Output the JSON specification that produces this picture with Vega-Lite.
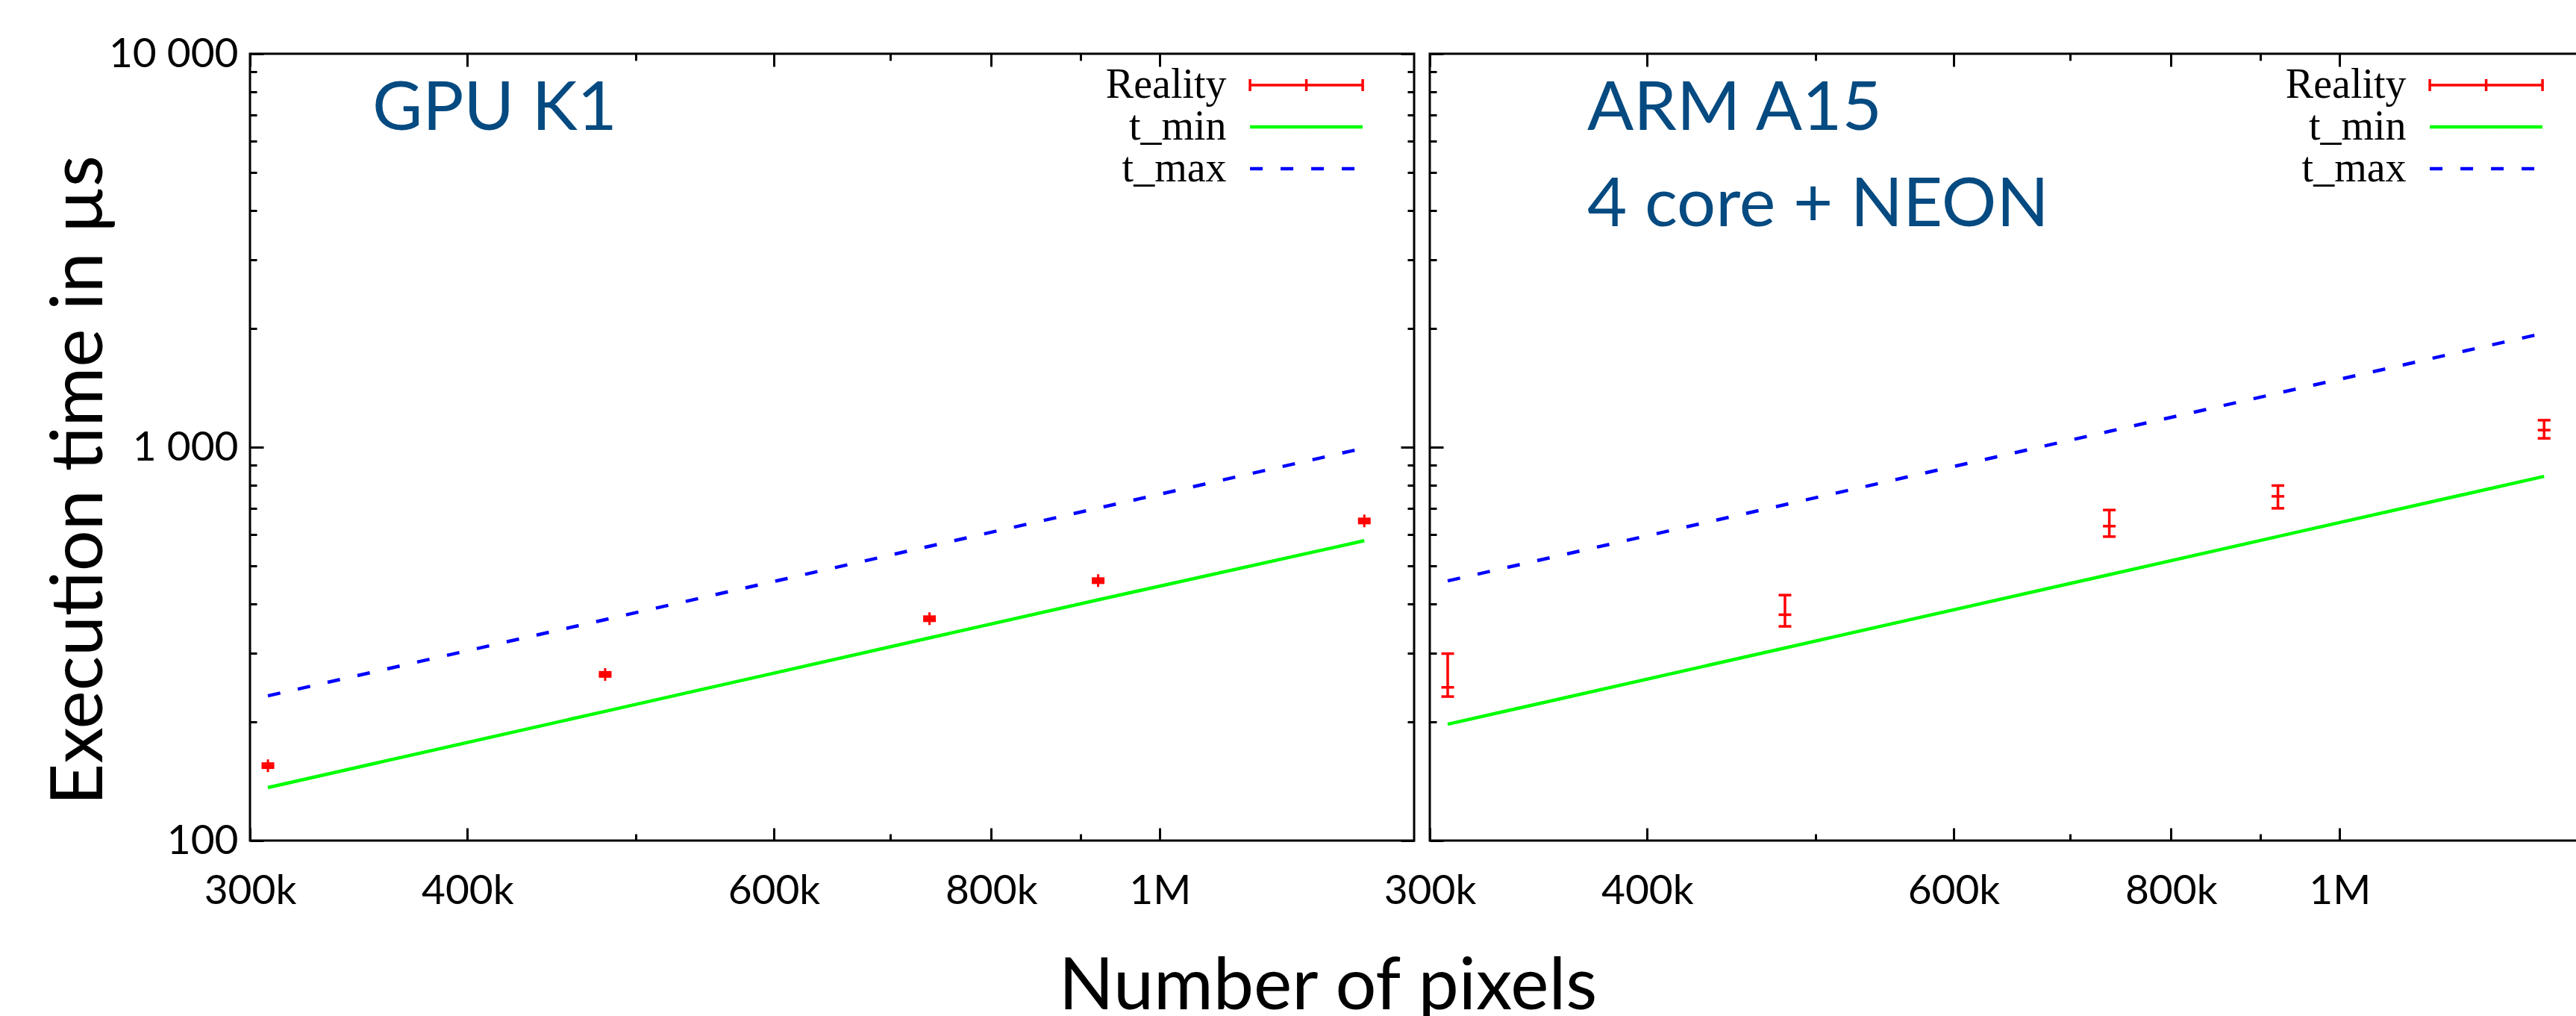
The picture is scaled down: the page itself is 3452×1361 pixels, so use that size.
{
  "$schema": "https://vega.github.io/schema/vega-lite/v6.json",
  "padding": {"left": 56, "top": 43, "right": 0, "bottom": 0},
  "background": "white",
  "bounds": "flush",
  "spacing": 21,
  "config": {
    "view": {"stroke": "black", "strokeWidth": 3},
    "axis": {"grid": false, "domain": false, "tickColor": "black", "tickWidth": 3, "labelColor": "black", "labelFont": "Lato", "labelFontSize": 55, "labelFlush": false, "labelOverlap": false, "labelBound": false, "titleFont": "Lato", "titleFontSize": 97, "titleFontWeight": "normal", "titleColor": "black"}
  },
  "data": {"values": [
    {"panel": "GPU", "series": "Reality", "px": 307200, "t": 155.0, "lo": 153.2, "hi": 156.9},
    {"panel": "GPU", "series": "Reality", "px": 480000, "t": 264.5, "lo": 261.3, "hi": 267.7},
    {"panel": "GPU", "series": "Reality", "px": 737280, "t": 366.4, "lo": 362.0, "hi": 370.8},
    {"panel": "GPU", "series": "Reality", "px": 921600, "t": 457.8, "lo": 452.3, "hi": 463.3},
    {"panel": "GPU", "series": "Reality", "px": 1310720, "t": 649.3, "lo": 641.5, "hi": 657.1},
    {"panel": "GPU", "series": "t_min", "px": 307200, "t": 136.4},
    {"panel": "GPU", "series": "t_min", "px": 480000, "t": 213.1},
    {"panel": "GPU", "series": "t_min", "px": 737280, "t": 327.4},
    {"panel": "GPU", "series": "t_min", "px": 921600, "t": 409.2},
    {"panel": "GPU", "series": "t_min", "px": 1310720, "t": 578.5},
    {"panel": "GPU", "series": "t_max", "px": 307200, "t": 233.3},
    {"panel": "GPU", "series": "t_max", "px": 480000, "t": 364.5},
    {"panel": "GPU", "series": "t_max", "px": 737280, "t": 560.0},
    {"panel": "GPU", "series": "t_max", "px": 921600, "t": 700.0},
    {"panel": "GPU", "series": "t_max", "px": 1310720, "t": 995.0},
    {"panel": "ARM", "series": "Reality", "px": 307200, "t": 245.2, "lo": 232.3, "hi": 298.7},
    {"panel": "ARM", "series": "Reality", "px": 480000, "t": 375.1, "lo": 350.3, "hi": 420.7},
    {"panel": "ARM", "series": "Reality", "px": 737280, "t": 629.8, "lo": 592.4, "hi": 692.2},
    {"panel": "ARM", "series": "Reality", "px": 921600, "t": 749.9, "lo": 699.2, "hi": 798.7},
    {"panel": "ARM", "series": "Reality", "px": 1310720, "t": 1105, "lo": 1053, "hi": 1171},
    {"panel": "ARM", "series": "t_min", "px": 307200, "t": 197.6},
    {"panel": "ARM", "series": "t_min", "px": 480000, "t": 308.8},
    {"panel": "ARM", "series": "t_min", "px": 737280, "t": 474.2},
    {"panel": "ARM", "series": "t_min", "px": 921600, "t": 592.8},
    {"panel": "ARM", "series": "t_min", "px": 1310720, "t": 843.0},
    {"panel": "ARM", "series": "t_max", "px": 307200, "t": 457.2},
    {"panel": "ARM", "series": "t_max", "px": 480000, "t": 714.4},
    {"panel": "ARM", "series": "t_max", "px": 737280, "t": 1097},
    {"panel": "ARM", "series": "t_max", "px": 921600, "t": 1371.6},
    {"panel": "ARM", "series": "t_max", "px": 1310720, "t": 1950}
  ]},
  "hconcat": [
    {
      "width": 1560, "height": 1054,
      "title": {"text": "GPU K1", "anchor": "start", "frame": "group", "orient": "top", "offset": -117, "dx": 164, "dy": 104, "baseline": "alphabetic", "font": "Lato", "fontSize": 92, "fontWeight": "normal", "color": "#054a80"},
      "transform": [{"filter": "datum.panel === 'GPU'"}],
      "layer": [
        {
          "transform": [{"filter": "datum.series === 't_min'"}],
          "mark": {"type": "line", "strokeWidth": 4.5},
          "encoding": {
            "x": {"field": "px", "type": "quantitative", "scale": {"type": "log", "domain": [300000, 1400000], "nice": false},
              "axis": {"orient": "bottom", "values": [300000, 400000, 500000, 600000, 700000, 800000, 900000, 1000000],
                "labelExpr": "datum.value == 300000 ? '300k' : datum.value == 400000 ? '400k' : datum.value == 600000 ? '600k' : datum.value == 800000 ? '800k' : datum.value == 1000000 ? '1M' : ''",
                "tickSize": {"condition": {"test": "datum.value == 300000 || datum.value == 400000 || datum.value == 600000 || datum.value == 800000 || datum.value == 1000000", "value": -17}, "value": -9},
                "labelPadding": 58,
                "title": "Number of pixels", "titleX": 1444, "titleY": 225, "titleAlign": "center", "titleBaseline": "alphabetic"}},
            "y": {"field": "t", "type": "quantitative", "scale": {"type": "log", "domain": [100, 10000], "nice": false},
              "axis": {"orient": "left", "values": [100, 200, 300, 400, 500, 600, 700, 800, 900, 1000, 2000, 3000, 4000, 5000, 6000, 7000, 8000, 9000, 10000],
                "labelExpr": "datum.value == 100 ? '100' : datum.value == 1000 ? '1 000' : datum.value == 10000 ? '10 000' : ''",
                "tickSize": {"condition": {"test": "datum.value == 100 || datum.value == 1000 || datum.value == 10000", "value": -18}, "value": -9},
                "labelPadding": 34,
                "title": "Execution time in µs", "titleX": -199, "titleY": 571, "titleAngle": 270, "titleAlign": "center", "titleBaseline": "alphabetic"}},
            "color": {"field": "series", "type": "nominal", "scale": {"domain": ["Reality", "t_min", "t_max"], "range": ["#ff0000", "#00ff00", "#0000ff"]},
              "legend": {"title": null, "orient": "none", "legendX": 1387.6, "legendY": 14, "padding": 0,
                "symbolType": "M-7.55,0H7.55", "symbolSize": 400, "symbolStrokeWidth": 4.5,
                "labelFont": "Liberation Serif", "labelFontSize": 56, "labelColor": "black", "labelAlign": "right", "labelBaseline": "middle", "labelOffset": -135, "labelLimit": 0, "rowPadding": -3,
                "encode": {"symbols": {"update": {
                  "shape": {"signal": "datum.value === 'Reality' ? 'M-7.55,0H7.55M-7.55,-0.8V0.8M7.55,-0.8V0.8M0,-0.8V0.8' : 'M-7.55,0H7.55'"},
                  "strokeDash": {"signal": "datum.value === 't_max' ? [17, 24] : [1, 0]"},
                  "strokeWidth": {"signal": "datum.value === 'Reality' ? 3.5 : 4.5"}}}}}}
          }
        },
        {
          "transform": [{"filter": "datum.series === 't_max'"}],
          "mark": {"type": "line", "strokeWidth": 4.5, "strokeDash": [17, 24]},
          "encoding": {
            "x": {"field": "px", "type": "quantitative", "scale": {"type": "log", "domain": [300000, 1400000], "nice": false},
              "axis": {"orient": "top", "values": [300000, 400000, 500000, 600000, 700000, 800000, 900000, 1000000], "labels": false, "title": null,
                "tickSize": {"condition": {"test": "datum.value == 300000 || datum.value == 400000 || datum.value == 600000 || datum.value == 800000 || datum.value == 1000000", "value": -17}, "value": -9}}},
            "y": {"field": "t", "type": "quantitative", "scale": {"type": "log", "domain": [100, 10000], "nice": false},
              "axis": {"orient": "right", "values": [100, 200, 300, 400, 500, 600, 700, 800, 900, 1000, 2000, 3000, 4000, 5000, 6000, 7000, 8000, 9000, 10000], "labels": false, "title": null,
                "tickSize": {"condition": {"test": "datum.value == 100 || datum.value == 1000 || datum.value == 10000", "value": -18}, "value": -9}}},
            "color": {"field": "series", "type": "nominal", "scale": {"domain": ["Reality", "t_min", "t_max"], "range": ["#ff0000", "#00ff00", "#0000ff"]}}
          }
        },
        {
          "transform": [{"filter": "datum.series === 'Reality'"}],
          "mark": {"type": "rule", "color": "#ff0000", "strokeWidth": 3.5},
          "encoding": {
            "x": {"field": "px", "type": "quantitative", "scale": {"type": "log", "domain": [300000, 1400000], "nice": false}, "axis": null},
            "y": {"field": "lo", "type": "quantitative", "scale": {"type": "log", "domain": [100, 10000], "nice": false}, "axis": null},
            "y2": {"field": "hi"}
          }
        },
        {
          "transform": [{"filter": "datum.series === 'Reality'"}],
          "mark": {"type": "point", "shape": "M-1,0H1", "size": 289, "filled": false, "stroke": "#ff0000", "strokeWidth": 3.5, "opacity": 1},
          "encoding": {
            "x": {"field": "px", "type": "quantitative", "scale": {"type": "log", "domain": [300000, 1400000], "nice": false}, "axis": null},
            "y": {"field": "lo", "type": "quantitative", "scale": {"type": "log", "domain": [100, 10000], "nice": false}, "axis": null}
          }
        },
        {
          "transform": [{"filter": "datum.series === 'Reality'"}],
          "mark": {"type": "point", "shape": "M-1,0H1", "size": 289, "filled": false, "stroke": "#ff0000", "strokeWidth": 3.5, "opacity": 1},
          "encoding": {
            "x": {"field": "px", "type": "quantitative", "scale": {"type": "log", "domain": [300000, 1400000], "nice": false}, "axis": null},
            "y": {"field": "hi", "type": "quantitative", "scale": {"type": "log", "domain": [100, 10000], "nice": false}, "axis": null}
          }
        },
        {
          "transform": [{"filter": "datum.series === 'Reality'"}],
          "mark": {"type": "point", "shape": "M-1,0H1M0,-1V1", "size": 289, "filled": false, "stroke": "#ff0000", "strokeWidth": 3, "opacity": 1},
          "encoding": {
            "x": {"field": "px", "type": "quantitative", "scale": {"type": "log", "domain": [300000, 1400000], "nice": false}, "axis": null},
            "y": {"field": "t", "type": "quantitative", "scale": {"type": "log", "domain": [100, 10000], "nice": false}, "axis": null}
          }
        }
      ],
      "resolve": {"axis": {"x": "independent", "y": "independent"}}
    },
    {
      "width": 1560, "height": 1054,
      "title": {"text": ["ARM A15", "4 core + NEON"], "anchor": "start", "frame": "group", "orient": "top", "offset": -220, "dx": 211, "dy": 104, "baseline": "alphabetic", "lineHeight": 129, "font": "Lato", "fontSize": 92, "fontWeight": "normal", "color": "#054a80"},
      "transform": [{"filter": "datum.panel === 'ARM'"}],
      "layer": [
        {
          "transform": [{"filter": "datum.series === 't_min'"}],
          "mark": {"type": "line", "strokeWidth": 4.5},
          "encoding": {
            "x": {"field": "px", "type": "quantitative", "scale": {"type": "log", "domain": [300000, 1400000], "nice": false},
              "axis": {"orient": "bottom", "values": [300000, 400000, 500000, 600000, 700000, 800000, 900000, 1000000],
                "labelExpr": "datum.value == 300000 ? '300k' : datum.value == 400000 ? '400k' : datum.value == 600000 ? '600k' : datum.value == 800000 ? '800k' : datum.value == 1000000 ? '1M' : ''",
                "tickSize": {"condition": {"test": "datum.value == 300000 || datum.value == 400000 || datum.value == 600000 || datum.value == 800000 || datum.value == 1000000", "value": -17}, "value": -9},
                "labelPadding": 58, "title": null}},
            "y": {"field": "t", "type": "quantitative", "scale": {"type": "log", "domain": [100, 10000], "nice": false},
              "axis": {"orient": "left", "values": [100, 200, 300, 400, 500, 600, 700, 800, 900, 1000, 2000, 3000, 4000, 5000, 6000, 7000, 8000, 9000, 10000], "labels": false, "title": null,
                "tickSize": {"condition": {"test": "datum.value == 100 || datum.value == 1000 || datum.value == 10000", "value": -18}, "value": -9}}},
            "color": {"field": "series", "type": "nominal", "scale": {"domain": ["Reality", "t_min", "t_max"], "range": ["#ff0000", "#00ff00", "#0000ff"]},
              "legend": {"title": null, "orient": "none", "legendX": 1387.6, "legendY": 14, "padding": 0,
                "symbolType": "M-7.55,0H7.55", "symbolSize": 400, "symbolStrokeWidth": 4.5,
                "labelFont": "Liberation Serif", "labelFontSize": 56, "labelColor": "black", "labelAlign": "right", "labelBaseline": "middle", "labelOffset": -135, "labelLimit": 0, "rowPadding": -3,
                "encode": {"symbols": {"update": {
                  "shape": {"signal": "datum.value === 'Reality' ? 'M-7.55,0H7.55M-7.55,-0.8V0.8M7.55,-0.8V0.8M0,-0.8V0.8' : 'M-7.55,0H7.55'"},
                  "strokeDash": {"signal": "datum.value === 't_max' ? [17, 24] : [1, 0]"},
                  "strokeWidth": {"signal": "datum.value === 'Reality' ? 3.5 : 4.5"}}}}}}
          }
        },
        {
          "transform": [{"filter": "datum.series === 't_max'"}],
          "mark": {"type": "line", "strokeWidth": 4.5, "strokeDash": [17, 24]},
          "encoding": {
            "x": {"field": "px", "type": "quantitative", "scale": {"type": "log", "domain": [300000, 1400000], "nice": false},
              "axis": {"orient": "top", "values": [300000, 400000, 500000, 600000, 700000, 800000, 900000, 1000000], "labels": false, "title": null,
                "tickSize": {"condition": {"test": "datum.value == 300000 || datum.value == 400000 || datum.value == 600000 || datum.value == 800000 || datum.value == 1000000", "value": -17}, "value": -9}}},
            "y": {"field": "t", "type": "quantitative", "scale": {"type": "log", "domain": [100, 10000], "nice": false},
              "axis": {"orient": "right", "values": [100, 200, 300, 400, 500, 600, 700, 800, 900, 1000, 2000, 3000, 4000, 5000, 6000, 7000, 8000, 9000, 10000], "labels": false, "title": null,
                "tickSize": {"condition": {"test": "datum.value == 100 || datum.value == 1000 || datum.value == 10000", "value": -18}, "value": -9}}},
            "color": {"field": "series", "type": "nominal", "scale": {"domain": ["Reality", "t_min", "t_max"], "range": ["#ff0000", "#00ff00", "#0000ff"]}}
          }
        },
        {
          "transform": [{"filter": "datum.series === 'Reality'"}],
          "mark": {"type": "rule", "color": "#ff0000", "strokeWidth": 3.5},
          "encoding": {
            "x": {"field": "px", "type": "quantitative", "scale": {"type": "log", "domain": [300000, 1400000], "nice": false}, "axis": null},
            "y": {"field": "lo", "type": "quantitative", "scale": {"type": "log", "domain": [100, 10000], "nice": false}, "axis": null},
            "y2": {"field": "hi"}
          }
        },
        {
          "transform": [{"filter": "datum.series === 'Reality'"}],
          "mark": {"type": "point", "shape": "M-1,0H1", "size": 289, "filled": false, "stroke": "#ff0000", "strokeWidth": 3.5, "opacity": 1},
          "encoding": {
            "x": {"field": "px", "type": "quantitative", "scale": {"type": "log", "domain": [300000, 1400000], "nice": false}, "axis": null},
            "y": {"field": "lo", "type": "quantitative", "scale": {"type": "log", "domain": [100, 10000], "nice": false}, "axis": null}
          }
        },
        {
          "transform": [{"filter": "datum.series === 'Reality'"}],
          "mark": {"type": "point", "shape": "M-1,0H1", "size": 289, "filled": false, "stroke": "#ff0000", "strokeWidth": 3.5, "opacity": 1},
          "encoding": {
            "x": {"field": "px", "type": "quantitative", "scale": {"type": "log", "domain": [300000, 1400000], "nice": false}, "axis": null},
            "y": {"field": "hi", "type": "quantitative", "scale": {"type": "log", "domain": [100, 10000], "nice": false}, "axis": null}
          }
        },
        {
          "transform": [{"filter": "datum.series === 'Reality'"}],
          "mark": {"type": "point", "shape": "M-1,0H1", "size": 289, "filled": false, "stroke": "#ff0000", "strokeWidth": 3.5, "opacity": 1},
          "encoding": {
            "x": {"field": "px", "type": "quantitative", "scale": {"type": "log", "domain": [300000, 1400000], "nice": false}, "axis": null},
            "y": {"field": "t", "type": "quantitative", "scale": {"type": "log", "domain": [100, 10000], "nice": false}, "axis": null}
          }
        }
      ],
      "resolve": {"axis": {"x": "independent", "y": "independent"}}
    }
  ],
  "resolve": {"scale": {"color": "independent"}, "legend": {"color": "independent"}}
}
